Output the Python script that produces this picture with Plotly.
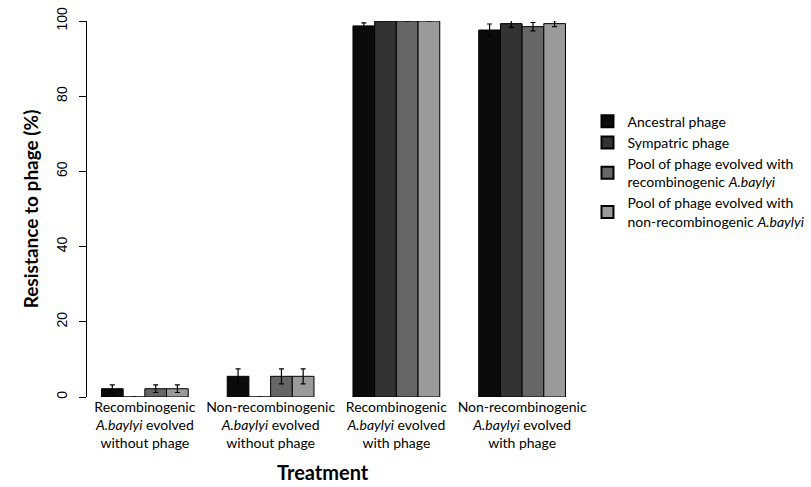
import plotly.graph_objects as go

categories = [
    "Recombinogenic<br><i>A.baylyi</i> evolved<br>without phage",
    "Non-recombinogenic<br><i>A.baylyi</i> evolved<br>without phage",
    "Recombinogenic<br><i>A.baylyi</i> evolved<br>with phage",
    "Non-recombinogenic<br><i>A.baylyi</i> evolved<br>with phage",
]
series_names = [
    "Ancestral phage",
    "Sympatric phage",
    "Pool of phage evolved with<br>recombinogenic <i>A.baylyi</i>",
    "Pool of phage evolved with<br>non-recombinogenic <i>A.baylyi</i>",
]
ancestral = [2.2, 5.5, 98.7, 97.6]
sympatric = [0.0, 0.0, 100.0, 99.3]
pool_rec = [2.2, 5.5, 100.0, 98.5]
pool_nonrec = [2.2, 5.5, 100.0, 99.3]
err_ancestral = [1.0, 2.0, 0.8, 1.6]
err_sympatric = [0.0, 0.0, 0.0, 1.0]
err_pool_rec = [1.0, 2.0, 0.0, 1.1]
err_pool_nonrec = [1.0, 2.0, 0.0, 0.8]

values = [ancestral, sympatric, pool_rec, pool_nonrec]
errors = [err_ancestral, err_sympatric, err_pool_rec, err_pool_nonrec]
colors = ["#0b0b0b", "#333333", "#666666", "#9a9a9a"]

xpos = list(range(len(categories)))
fig = go.Figure()
for name, vals, errs, col in zip(series_names, values, errors, colors):
    fig.add_trace(go.Bar(
        x=xpos, y=vals, name=name,
        marker=dict(color=col, line=dict(color="#000000", width=1)),
        error_y=dict(type="data", array=errs, visible=True, color="#000000",
                     thickness=1.2, width=2.5),
        cliponaxis=False,
    ))

fig.add_annotation(text="<b>Treatment</b>", xref="paper", yref="paper",
                   x=0.474, y=-0.2, xanchor="center", yanchor="middle",
                   showarrow=False, font=dict(family="Lato", size=20))

fig.update_layout(
    width=811, height=487,
    margin=dict(l=87, r=226, t=21, b=90, autoexpand=False),
    paper_bgcolor="white", plot_bgcolor="white",
    barmode="group", bargap=0.31, bargroupgap=0,
    font=dict(family="Lato", color="#000000"),
    showlegend=True,
    legend=dict(x=1.005, y=0.775, xanchor="left", yanchor="top",
                font=dict(family="Lato", size=14), tracegroupgap=14,
                itemsizing="constant"),
    xaxis=dict(range=[-0.46, 3.5], tickvals=xpos, ticktext=categories,
               showline=False, showgrid=False, zeroline=False, ticks="",
               automargin=False,
               tickfont=dict(family="Lato", size=14)),
    yaxis=dict(range=[0, 100], tickvals=[0, 20, 40, 60, 80, 100],
               showline=True, linecolor="#000000", linewidth=1,
               ticks="outside", ticklen=7, tickcolor="#000000",
               tickangle=-90, showgrid=False, zeroline=False,
               automargin=False, ticklabelstandoff=6,
               tickfont=dict(family="Liberation Sans", size=14),
               title=dict(text="<b>Resistance to phage (%)</b>",
                          font=dict(family="Lato", size=19), standoff=10)),
)

fig.write_html("out.html", config={"displayModeBar": False},
               post_script="document.body.style.margin='0';document.body.style.overflow='hidden';")
